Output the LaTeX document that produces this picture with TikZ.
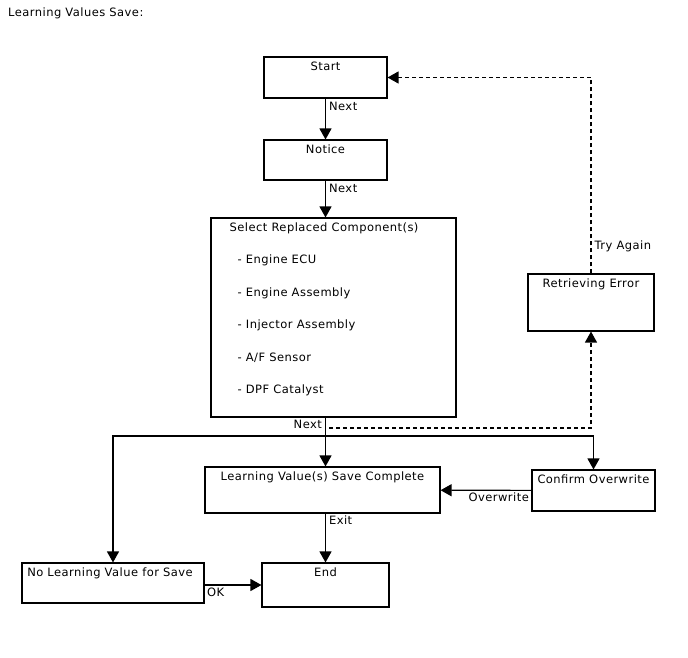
\documentclass[tikz,border=0pt]{standalone}
\usepackage{fontspec}
\setmainfont[LetterSpace=4]{DejaVu Sans}
\usetikzlibrary{arrows.meta,positioning}

\begin{document}
\begin{tikzpicture}[x=1pt,y=-1pt,>={Triangle[length=11pt,width=12pt]},
      font=\fontsize{11.5}{13}\selectfont,
      box/.style={draw,line width=1.1pt,inner sep=0pt},
      boxtitle/.style={anchor=north,inner sep=0pt,yshift=-5pt},
      flow/.style={->,line width=1.2pt},
      retry/.style={->,line width=1.2pt,dash pattern=on 4pt off 3pt},
      tag/.style={inner sep=3pt}]
      \useasboundingbox (0,0) rectangle (688,658);
      \node[anchor=west,inner sep=0pt] (title) at (8,13) {Learning Values Save:};
      % boxes
      \node[box,minimum width=123pt,minimum height=41pt,label={[boxtitle]north:Start}] (start) at (325.5,77.5) {};
      \node[box,minimum width=123pt,minimum height=40pt,label={[boxtitle]north:Notice}] (notice) at (325.5,160) {};
      \node[box,minimum width=245pt,minimum height=199pt,
        label={[anchor=north west,inner sep=0pt,xshift=19pt,yshift=-5pt,align=left,
          font=\fontsize{11.5}{32.5}\selectfont]north west:Select Replaced Component(s)\\
          \hspace*{8pt}- Engine ECU\\\hspace*{8pt}- Engine Assembly\\\hspace*{8pt}- Injector Assembly\\
          \hspace*{8pt}- A/F Sensor\\\hspace*{8pt}- DPF Catalyst}] (select) at (333.5,317.5) {};
      \node[box,minimum width=126pt,minimum height=57pt,label={[boxtitle]north:Retrieving Error}] (error) at (591,302.5) {};
      \node[box,minimum width=235pt,minimum height=46pt,label={[boxtitle]north:Learning Value(s) Save Complete}] (save) at (322.5,490) {};
      \node[box,minimum width=123pt,minimum height=41pt,label={[boxtitle]north:Confirm Overwrite}] (confirm) at (593.5,490.5) {};
      \node[box,minimum width=182pt,minimum height=40pt,label={[boxtitle,xshift=-3pt]north:No Learning Value for Save}] (nolv) at (113,583) {};
      \node[box,minimum width=127pt,minimum height=44pt,label={[boxtitle]north:End}] (end) at (325.5,585) {};
      \coordinate (split) at (325.5,436);
      \coordinate (retryfrom) at (329,428);
      % connectors
      \draw[flow] (start) -- node[tag,right,pos=.2]{Next} (notice);
      \draw[flow] (notice.south) -- node[tag,right,pos=.2]{Next} (notice.south |- select.north);
      \draw[flow] (notice.south |- select.south) -- node[tag,left,pos=.14]{Next} (notice.south |- save.north);
      \draw[flow] (split) -| (nolv);
      \draw[flow] (split) -| (confirm);
      \draw[retry] (retryfrom) -| (error);
      \draw[retry] (error) |- node[tag,right,pos=.07]{Try Again} (start);
      \draw[flow] (confirm) -- node[tag,anchor=north east,pos=0,inner sep=2pt]{Overwrite} (save);
      \draw[flow] (end.north |- save.south) -- node[tag,right,pos=.14]{Exit} (end);
      \draw[flow] (nolv.east |- end.west) -- node[tag,anchor=north west,pos=0,inner sep=2pt]{OK} (end);
    \end{tikzpicture}
\end{document}
